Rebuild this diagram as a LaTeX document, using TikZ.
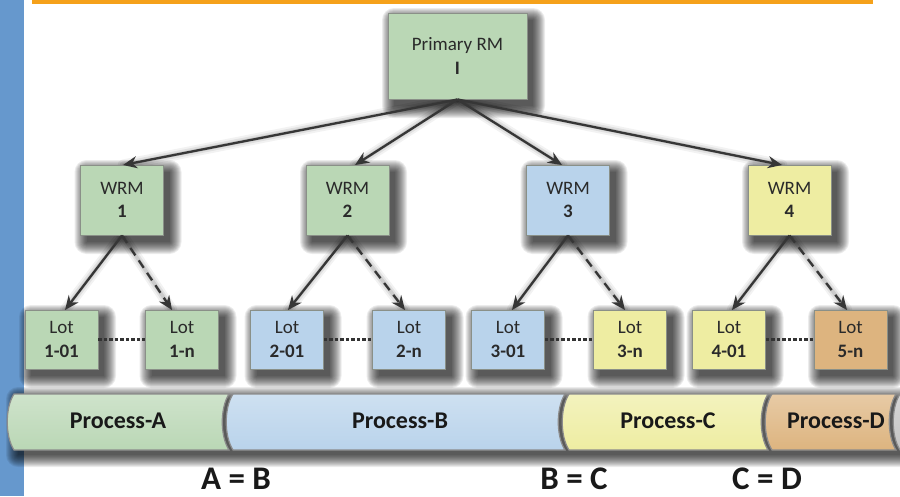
\documentclass[tikz,border=0pt]{standalone}
\usepackage{fontspec}
\setmainfont{Carlito}
\usetikzlibrary{arrows.meta,calc}

\definecolor{gfill}{HTML}{BAD7B5}
\definecolor{bfill}{HTML}{B9D3EB}
\definecolor{yfill}{HTML}{EEEDA2}
\definecolor{tfill}{HTML}{DDB47F}
\definecolor{nextfill}{HTML}{C4C4C4}
\definecolor{edge}{HTML}{8A9088}
\definecolor{arrowc}{HTML}{363636}
\definecolor{sidebar}{HTML}{6698CD}
\definecolor{topline}{HTML}{F5A11A}
\definecolor{labelc}{HTML}{2A2A2A}

\tikzset{
  card/.style={draw=edge, line width=0.9pt, inner sep=0pt, align=center,
    text=labelc, font=\fontsize{19}{23.5}\selectfont},
  rootbox/.style={card, minimum width=139pt, minimum height=86pt},
  wrmbox/.style={card, minimum width=83pt, minimum height=70pt},
  lotbox/.style={card, minimum width=73pt, minimum height=59pt},
  link/.style={draw=arrowc, line width=2.3pt, -{Stealth[length=14pt,width=12pt]}},
  optlink/.style={link, dash pattern=on 9pt off 6pt},
  linkshade/.style={draw=black, line cap=round, opacity=#1},
  shadelayer/.style={fill=black, opacity=0.075},
  chain/.style={draw=black!80, line width=2.2pt, dash pattern=on 3.5pt off 2pt},
  eqlabel/.style={font=\bfseries\fontsize{33}{36}\selectfont, text=black!90},
  proclabel/.style={font=\bfseries\fontsize{24}{28}\selectfont, text=black!90},
  barshape/.style={draw=black!45, line width=1.2pt,
    top color=#1!70!white, bottom color=#1},
}

% soft drop shadow of a box: centre, half width, half height
\newcommand\softshadow[3]{%
  \foreach \r in {12,11,...,0}{%
    \fill[shadelayer, rounded corners=\r pt]
      ($(#1)+(-#2-\r+6,-#3-\r+7)$) rectangle ($(#1)+(#2+\r+6,#3+\r+7)$);}}

% one process segment: left end x, right end x (both at the top edge), colour
\newcommand\procseg[3]{%
  \path[barshape=#3] (#1,394) .. controls (#1-9,408) and (#1-9,436) .. (#1,450)
    -- (#2,450) .. controls (#2-9,436) and (#2-9,408) .. (#2,394) -- cycle;}

% soft shadow under a connector, laid down before the boxes
\newcommand\linkshadow[2]{%
  \begin{scope}[shift={(3,4)}]
    \draw[linkshade=0.05, line width=11pt] (#1) -- (#2);
    \draw[linkshade=0.07, line width=7pt] (#1) -- (#2);
    \draw[linkshade=0.09, line width=3.5pt] (#1) -- (#2);
  \end{scope}}

\begin{document}
\begin{tikzpicture}[x=1pt,y=-1pt]
\useasboundingbox (0,0) rectangle (900,496);
\fill[white] (0,0) rectangle (900,496);

% frame decoration
\fill[sidebar] (0,0) rectangle (24,496);
\fill[topline] (32,0) rectangle (873,4);

% box centres
\coordinate (cR) at (457.5,56);
\coordinate (c1) at (122,200);
\coordinate (c2) at (347.5,200);
\coordinate (c3) at (568,200);
\coordinate (c4) at (789.5,200);
\coordinate (c11) at (61.5,339.5);
\coordinate (c1n) at (182,339.5);
\coordinate (c21) at (287,339.5);
\coordinate (c2n) at (409,339.5);
\coordinate (c31) at (508,339.5);
\coordinate (c3n) at (630,339.5);
\coordinate (c41) at (729,339.5);
\coordinate (c5n) at (850.5,339.5);

% connector ends: bottom of parent, top of child
\coordinate (sR) at ($(cR)+(0,43)$);
\coordinate (s1) at ($(c1)+(0,35)$);
\coordinate (s2) at ($(c2)+(0,35)$);
\coordinate (s3) at ($(c3)+(0,35)$);
\coordinate (s4) at ($(c4)+(0,35)$);
\coordinate (t1) at ($(c1)+(1,-35)$);
\coordinate (t2) at ($(c2)+(7.5,-35)$);
\coordinate (t3) at ($(c3)+(-6,-35)$);
\coordinate (t4) at ($(c4)+(-7.5,-35)$);
\coordinate (t11) at ($(c11)+(3.5,-29.5)$);
\coordinate (t1n) at ($(c1n)+(-10,-29.5)$);
\coordinate (t21) at ($(c21)+(1,-29.5)$);
\coordinate (t2n) at ($(c2n)+(-4,-29.5)$);
\coordinate (t31) at ($(c31)+(4,-29.5)$);
\coordinate (t3n) at ($(c3n)+(-5,-29.5)$);
\coordinate (t41) at ($(c41)+(3,-29.5)$);
\coordinate (t5n) at ($(c5n)+(-3.5,-29.5)$);

% shadows: connectors, boxes, process band
\linkshadow{sR}{t1}
\linkshadow{sR}{t2}
\linkshadow{sR}{t3}
\linkshadow{sR}{t4}
\linkshadow{s1}{t11}
\linkshadow{s1}{t1n}
\linkshadow{s2}{t21}
\linkshadow{s2}{t2n}
\linkshadow{s3}{t31}
\linkshadow{s3}{t3n}
\linkshadow{s4}{t41}
\linkshadow{s4}{t5n}

\softshadow{cR}{69.5}{43}
\foreach \c in {c1,c2,c3,c4}{\softshadow{\c}{41.5}{35}}
\foreach \c in {c11,c1n,c21,c2n,c31,c3n,c41,c5n}{\softshadow{\c}{36.5}{29.5}}
\coordinate (cBand) at (455,420);
\softshadow{cBand}{443}{28}

% process band
\procseg{14}{229}{gfill}
\procseg{233}{565}{bfill}
\procseg{569}{768}{yfill}
\procseg{772}{896}{tfill}
\procseg{900}{930}{nextfill}

\node[proclabel] (pa) at (118,421) {Process-A};
\node[proclabel] (pb) at (400,421) {Process-B};
\node[proclabel] (pc) at (668,421) {Process-C};
\node[proclabel] (pd) at (836,421) {Process-D};

% equalities
\node[eqlabel, anchor=base] (ab) at (236,489) {A = B};
\node[eqlabel, anchor=base] (bc) at (574,489) {B = C};
\node[eqlabel, anchor=base] (cd) at (767,489) {C = D};

% hierarchy
\node[rootbox, fill=gfill] (root) at (cR) {Primary RM\\\textbf{I}};

\node[wrmbox, fill=gfill] (w1) at (c1) {WRM\\\textbf{1}};
\node[wrmbox, fill=gfill] (w2) at (c2) {WRM\\\textbf{2}};
\node[wrmbox, fill=bfill] (w3) at (c3) {WRM\\\textbf{3}};
\node[wrmbox, fill=yfill] (w4) at (c4) {WRM\\\textbf{4}};

\node[lotbox, fill=gfill] (l11) at (c11) {Lot\\\textbf{1-01}};
\node[lotbox, fill=gfill] (l1n) at (c1n) {Lot\\\textbf{1-n}};
\node[lotbox, fill=bfill] (l21) at (c21) {Lot\\\textbf{2-01}};
\node[lotbox, fill=bfill] (l2n) at (c2n) {Lot\\\textbf{2-n}};
\node[lotbox, fill=bfill] (l31) at (c31) {Lot\\\textbf{3-01}};
\node[lotbox, fill=yfill] (l3n) at (c3n) {Lot\\\textbf{3-n}};
\node[lotbox, fill=yfill] (l41) at (c41) {Lot\\\textbf{4-01}};
\node[lotbox, fill=tfill] (l5n) at (c5n) {Lot\\\textbf{5-n}};

% root to work reference materials
\draw[link] (root.south) -- (t1);
\draw[link] (root.south) -- (t2);
\draw[link] (root.south) -- (t3);
\draw[link] (root.south) -- (t4);

% work reference materials to lots
\draw[link]    (w1.south) -- (t11);
\draw[optlink] (w1.south) -- (t1n);
\draw[link]    (w2.south) -- (t21);
\draw[optlink] (w2.south) -- (t2n);
\draw[link]    (w3.south) -- (t31);
\draw[optlink] (w3.south) -- (t3n);
\draw[link]    (w4.south) -- (t41);
\draw[optlink] (w4.south) -- (t5n);

% lot ranges
\draw[chain] (l11.east) -- (l1n.west);
\draw[chain] (l21.east) -- (l2n.west);
\draw[chain] (l31.east) -- (l3n.west);
\draw[chain] (l41.east) -- (l5n.west);
\end{tikzpicture}
\end{document}
